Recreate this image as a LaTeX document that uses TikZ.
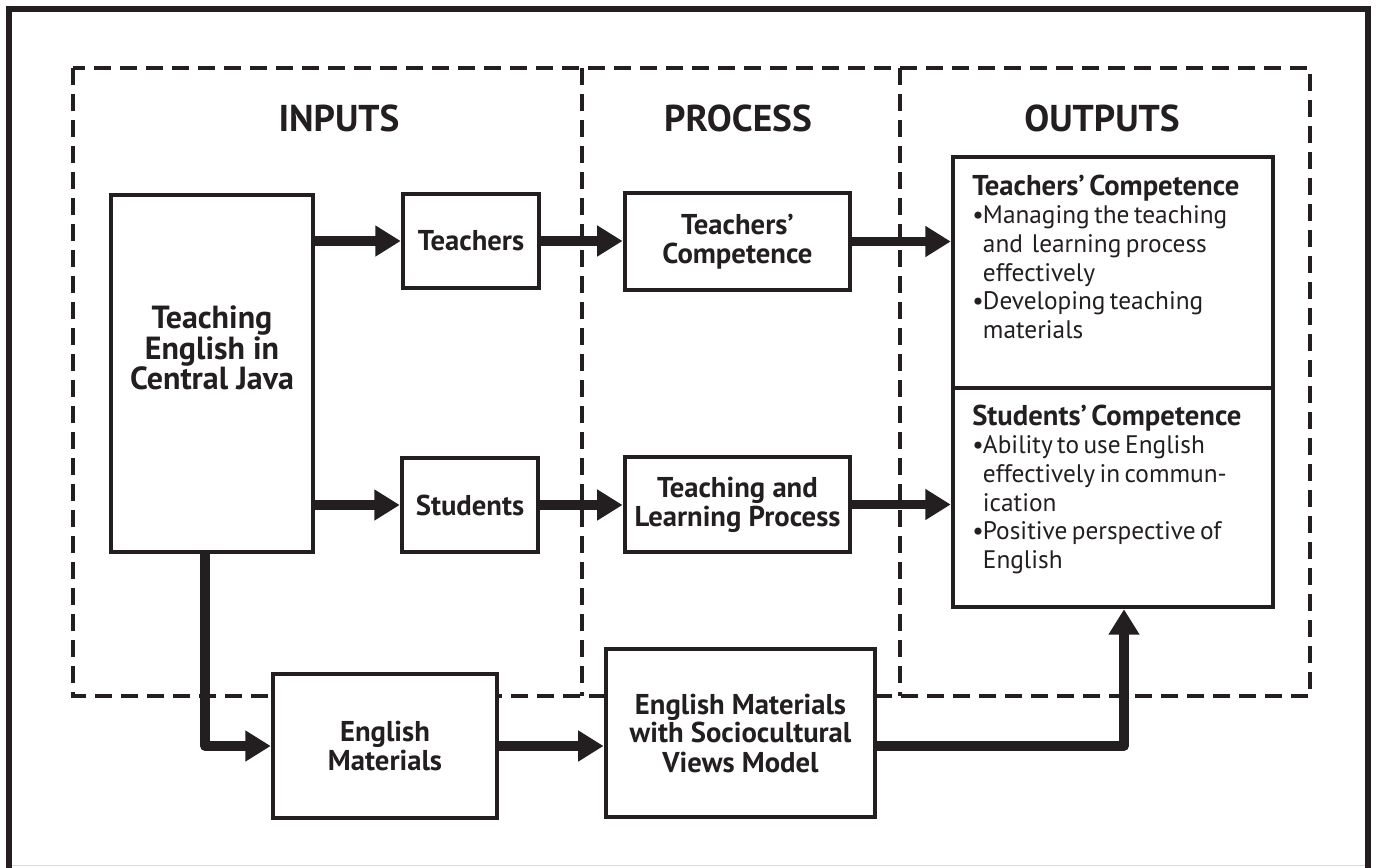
\documentclass[tikz,border=0pt]{standalone}
\usepackage{fontspec}
\setmainfont{PT Sans}
\usetikzlibrary{arrows.meta}
\definecolor{ink}{RGB}{35,31,32}
\newcommand{\bul}[1]{\par\noindent\hangindent=8pt\hangafter=1\makebox[8pt][l]{\textbullet}#1\par}

\begin{document}
\begin{tikzpicture}[x=0.75pt,y=0.75pt,yscale=-1,xscale=1,
	box/.style={draw=ink,line width=3.4pt,fill=white,inner sep=0pt,align=center,text=ink,font=\bfseries\fontsize{21.5}{21.75}\selectfont},
	zone/.style={ink,line width=2.4pt,dash pattern=on 12.75pt off 6.75pt},
	flow/.style={draw=ink,line width=7pt,line join=round,-{Triangle[length=19pt,width=22pt]}},
	heading/.style={text=ink,inner sep=0pt,font=\bfseries\fontsize{28}{30}\selectfont},
	outtext/.style={anchor=base west,text width=228pt,align=left,inner sep=0pt,text=ink}]
			\useasboundingbox (0,0) rectangle (1377,867);

			%Frame
			\draw [ink,line width=4.5pt]   (9,900) -- (9,9) -- (1368,9) -- (1368,900) ;
			\draw [black!15,line width=0.75pt]   (12,865.5) -- (1365,865.5) ;
			%Dashed Zones
			\draw [zone]   (73,68) rectangle (1310,696) ;
			\draw [zone]   (582,68) -- (582,696) ;
			\draw [zone]   (900,68) -- (900,696) ;

			% Text Node
			\node (inputs) [heading] at (339,118) {INPUTS};
			% Text Node
			\node (process) [heading] at (738,118) {PROCESS};
			% Text Node
			\node (outputs) [heading] at (1102,118) {OUTPUTS};

			%Shape: Rectangle
			\node (teach) [box,minimum width=151.5pt,minimum height=268pt] at (212,373.5) {};
			% Text Node
			\node (teachtxt) [text=ink,align=center,inner sep=0pt,font=\bfseries\fontsize{24}{22.75}\selectfont] at (212,348) {Teaching\\English in\\Central Java};
			%Shape: Rectangle
			\node (teachers) [box,minimum width=102pt,minimum height=70.5pt] at (471,241) {Teachers};
			%Shape: Rectangle
			\node (students) [box,minimum width=102pt,minimum height=70.5pt] at (470,505) {Students};
			%Shape: Rectangle
			\node (tcomp) [box,minimum width=169pt,minimum height=73pt] at (737.5,241.5) {Teachers’\\Competence};
			%Shape: Rectangle
			\node (tlp) [box,minimum width=169pt,minimum height=71pt] at (737.5,504.5) {Teaching and\\Learning Process};
			%Shape: Rectangle
			\node (engmat) [box,minimum width=168pt,minimum height=108pt] at (385,746) {English\\Materials};
			%Shape: Rectangle
			\node (emsvm) [box,minimum width=202pt,minimum height=126pt] at (740.5,733) {English Materials\\with Sociocultural\\Views Model};
			%Shape: Rectangle
			\node (tout) [box,minimum width=240pt,minimum height=173.25pt] at (1113,272.5) {};
			%Shape: Rectangle
			\node (sout) [box,minimum width=240pt,minimum height=164.25pt] at (1113,497.5) {};

			% Text Node
			\node (touttxt) [outtext] at (972,195) {{\bfseries\fontsize{21.5}{21.5}\selectfont Teachers’ Competence\par}
				\fontsize{19}{21.5}\selectfont
				\bul{Managing the teaching\newline and\ \ learning process\newline effectively}
				\bul{Developing teaching\newline materials}};
			% Text Node
			\node (souttxt) [outtext] at (972,425) {{\bfseries\fontsize{21.5}{21.5}\selectfont Students’ Competence\par}
				\fontsize{19}{21.5}\selectfont
				\bul{Ability to use English\newline effectively in commun-\newline ication}
				\bul{Positive perspective of\newline English}};

			%Straight Lines
			\draw [flow]   (teach.east |- teachers.west) -- (teachers.west) ;
			\draw [flow]   (teachers.east) -- (teachers.east -| tcomp.west) ;
			\draw [flow]   (tcomp.east) -- (tcomp.east -| tout.west) ;
			\draw [flow]   (teach.east |- students.west) -- (students.west) ;
			\draw [flow]   (students.east) -- (students.east -| tlp.west) ;
			\draw [flow]   (tlp.east) -- (tlp.east -| sout.west) ;
			%Elbow Lines
			\draw [flow]   ([xshift=-5.25pt]teach.south) |- (engmat.west) ;
			\draw [flow]   (engmat.east) -- (engmat.east -| emsvm.west) ;
			\coordinate (bend) at (1124,746) ;
			\draw [flow]   (emsvm.east |- bend) -- (bend) -- (bend |- sout.south) ;
		\end{tikzpicture}
\end{document}
